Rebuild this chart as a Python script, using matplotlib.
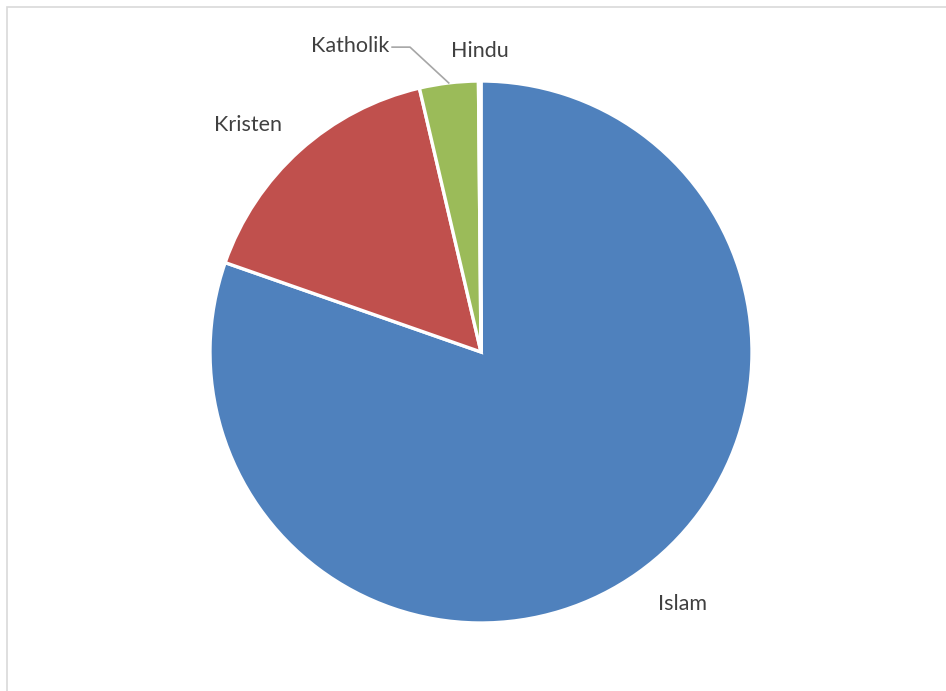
import matplotlib.pyplot as plt
import numpy as np
from matplotlib.patches import Rectangle

# religion shares (percent)
religions = ['Islam', 'Kristen', 'Katholik', 'Hindu']
shares = [80.35, 16.0, 3.5, 0.15]
colors = ['#4F81BD', '#C0504D', '#9BBB59', '#8064A2']

# label placement in pie units (radius = 1)
label_pos = {
    'Islam': (0.742, -0.930),
    'Kristen': (-0.860, 0.838),
    'Katholik': (-0.483, 1.129),
    'Hindu': (-0.004, 1.111),
}

W, H = 946, 691
fig = plt.figure(figsize=(W / 100, H / 100), dpi=100)
plt.rcParams['font.family'] = ['Lato', 'DejaVu Sans']

# thin frame around the chart area
fig.patches.append(Rectangle((7 / W, -0.05), 1.1, (H - 7) / H + 0.05,
                             transform=fig.transFigure, fill=False,
                             edgecolor='#D9D9D9', linewidth=1.2))

cx, cy, r = 481, 352, 271
ax = fig.add_axes([(cx - r) / W, (H - cy - r) / H, 2 * r / W, 2 * r / H])
wedges, _ = ax.pie(shares, colors=colors, startangle=90, counterclock=False,
                   radius=1, wedgeprops=dict(edgecolor='white', linewidth=2.4))
ax.set_xlim(-1, 1)
ax.set_ylim(-1, 1)
ax.set_aspect('equal')
ax.axis('off')

for name, w in zip(religions, wedges):
    x, y = label_pos[name]
    ax.text(x, y, name, ha='center', va='center', fontsize=15.5,
            color='#404040', clip_on=False)

# leader line for the Katholik slice
w = wedges[religions.index('Katholik')]
mid = np.deg2rad((w.theta1 + w.theta2) / 2)
ax.plot([-0.328, -0.262, np.cos(mid)], [1.125, 1.125, np.sin(mid)],
        color='#A6A6A6', linewidth=1.2, clip_on=False)

fig.savefig('out.png', dpi=100)
